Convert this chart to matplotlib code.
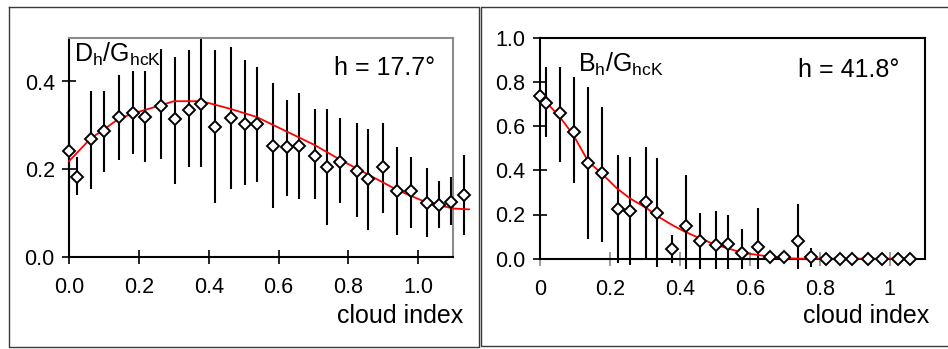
import numpy as np
import matplotlib.pyplot as plt
from matplotlib.lines import Line2D

plt.rcParams['font.family'] = ['Liberation Sans', 'DejaVu Sans']
plt.rcParams['mathtext.fontset'] = 'custom'
plt.rcParams['mathtext.rm'] = 'Liberation Sans'
plt.rcParams['mathtext.it'] = 'Liberation Sans:italic'

# left panel: D_h/G_hcK at h = 17.7 deg
d_x = [0.0, 0.023, 0.062, 0.099, 0.144, 0.184, 0.218, 0.264, 0.304, 0.343,
       0.379, 0.419, 0.463, 0.503, 0.537, 0.583, 0.623, 0.657, 0.703, 0.739,
       0.777, 0.823, 0.857, 0.898, 0.938, 0.978, 1.024, 1.058, 1.093, 1.132]
d_y = [0.241, 0.182, 0.268, 0.286, 0.319, 0.327, 0.318, 0.345, 0.314, 0.336,
       0.349, 0.295, 0.317, 0.303, 0.304, 0.253, 0.251, 0.253, 0.231, 0.205,
       0.217, 0.195, 0.177, 0.205, 0.149, 0.149, 0.122, 0.117, 0.126, 0.141]
d_lo = [0.148, 0.141, 0.154, 0.194, 0.221, 0.234, 0.217, 0.222, 0.167, 0.204,
        0.204, 0.122, 0.154, 0.163, 0.171, 0.112, 0.138, 0.131, 0.131, 0.072,
        0.122, 0.090, 0.062, 0.099, 0.049, 0.066, 0.044, 0.066, 0.072, 0.049]
d_hi = [0.338, 0.228, 0.379, 0.379, 0.414, 0.424, 0.424, 0.475, 0.455, 0.473,
        0.500, 0.473, 0.478, 0.450, 0.433, 0.397, 0.357, 0.374, 0.338, 0.338,
        0.316, 0.306, 0.292, 0.306, 0.251, 0.228, 0.202, 0.173, 0.183, 0.232]
d_fit_x = [0.0, 0.062, 0.099, 0.144, 0.2, 0.264, 0.3, 0.38, 0.46, 0.537,
           0.62, 0.703, 0.777, 0.86, 0.94, 1.02, 1.1, 1.145]
d_fit_y = [0.218, 0.270, 0.290, 0.316, 0.331, 0.346, 0.355, 0.355, 0.338, 0.319,
           0.287, 0.255, 0.221, 0.186, 0.152, 0.125, 0.110, 0.108]

# right panel: B_h/G_hcK at h = 41.8 deg
b_x = [0.0, 0.018, 0.058, 0.098, 0.138, 0.178, 0.224, 0.258, 0.304, 0.336,
       0.379, 0.418, 0.458, 0.504, 0.538, 0.578, 0.624, 0.658, 0.698, 0.738,
       0.774, 0.818, 0.858, 0.892, 0.938, 0.978, 1.024, 1.058]
b_y = [0.738, 0.703, 0.658, 0.575, 0.431, 0.386, 0.223, 0.216, 0.258, 0.208,
       0.042, 0.149, 0.080, 0.060, 0.068, 0.024, 0.051, 0.006, 0.006, 0.081,
       0.006, 0.0, 0.0, 0.0, 0.0, 0.0, 0.0, 0.0]
b_lo = [0.738, 0.552, 0.439, 0.341, 0.087, 0.077, -0.020, -0.030, 0.0, -0.036,
        -0.020, -0.048, -0.048, -0.048, -0.048, -0.048, -0.048, 0.006, 0.006, -0.048,
        -0.036, 0.0, 0.0, 0.0, 0.0, 0.0, 0.0, 0.0]
b_hi = [0.738, 0.869, 0.869, 0.824, 0.775, 0.688, 0.469, 0.462, 0.507, 0.454,
        0.107, 0.379, 0.208, 0.217, 0.200, 0.133, 0.228, 0.006, 0.006, 0.247,
        0.047, 0.0, 0.0, 0.0, 0.0, 0.0, 0.0, 0.0]
b_fit_x = [0.0, 0.018, 0.058, 0.096, 0.139, 0.177, 0.22, 0.258, 0.306, 0.339,
           0.379, 0.415, 0.458, 0.504, 0.538, 0.578, 0.624, 0.658, 0.698, 0.75, 1.06]
b_fit_y = [0.738, 0.71, 0.64, 0.56, 0.439, 0.386, 0.319, 0.273, 0.228, 0.19,
           0.152, 0.122, 0.092, 0.062, 0.047, 0.027, 0.017, 0.009, 0.002, 0.0, 0.0]

fig = plt.figure(figsize=(9.48, 3.49), dpi=100)
W, H = 948, 349

def px_axes(x0, x1, ytop, ybot):
    return fig.add_axes([x0 / W, 1 - ybot / H, (x1 - x0) / W, (ybot - ytop) / H])

ax1 = px_axes(69, 453.3, 37.7, 256.7)
ax2 = px_axes(539.7, 924.7, 37.7, 258.7)

def draw(ax, x, y, lo, hi, fx, fy):
    ax.vlines(x, lo, hi, color='black', lw=1.5, clip_on=False, zorder=2)
    ax.plot(fx, fy, color='red', lw=1.3, clip_on=False, zorder=3)
    ax.plot(x, y, 'D', ms=5.8, mfc='white', mec='black', mew=1.4,
            clip_on=False, zorder=4, linestyle='none')

draw(ax1, d_x, d_y, d_lo, d_hi, d_fit_x, d_fit_y)
draw(ax2, b_x, b_y, b_lo, b_hi, b_fit_x, b_fit_y)

ax1.set_xlim(0, 1.1)
ax1.set_ylim(0, 0.5)
ax1.set_xticks([0, 0.2, 0.4, 0.6, 0.8, 1.0])
ax1.set_xticklabels(['0.0', '0.2', '0.4', '0.6', '0.8', '1.0'])
ax1.set_yticks([0, 0.2, 0.4])
ax1.set_yticklabels(['0.0', '0.2', '0.4'])
for s in ['left', 'bottom']:
    ax1.spines[s].set_color('black')
    ax1.spines[s].set_linewidth(1.5)
for s in ['top', 'right']:
    ax1.spines[s].set_color('#8c8c8c')
    ax1.spines[s].set_linewidth(1.5)

ax2.set_xlim(0, 1.1)
ax2.set_ylim(0, 1.0)
ax2.set_xticks([0, 0.2, 0.4, 0.6, 0.8, 1.0])
ax2.set_xticklabels(['0', '0.2', '0.4', '0.6', '0.8', '1'])
ax2.set_yticks([0, 0.2, 0.4, 0.6, 0.8, 1.0])
ax2.set_yticklabels(['0.0', '0.2', '0.4', '0.6', '0.8', '1.0'])
for s in ax2.spines.values():
    s.set_color('black')
    s.set_linewidth(1.5)

for ax in (ax1, ax2):
    ax.set_facecolor('none')
    ax.tick_params(axis='both', direction='inout', length=9.5, width=1.2,
                   labelsize=15.5)
    ax.tick_params(axis='x', pad=10)
    ax.tick_params(axis='y', pad=5.5)
ax2.tick_params(axis='x', color='#8c8c8c')

lab = r'$\mathregular{D_h/G_{hcK}}$'
ax1.text(0.013, 0.889, lab, transform=ax1.transAxes, fontsize=18,
         ha='left', va='baseline')
ax1.text(0.952, 0.83, 'h = 17.7°', transform=ax1.transAxes, fontsize=18,
         ha='right', va='baseline')
ax2.text(0.0995, 0.846, r'$\mathregular{B_h/G_{hcK}}$', transform=ax2.transAxes,
         fontsize=18, ha='left', va='baseline')
ax2.text(0.933, 0.822, 'h = 41.8°', transform=ax2.transAxes, fontsize=18,
         ha='right', va='baseline')

fig.text(463 / W, 1 - 323 / H, 'cloud index', fontsize=18, ha='right', va='baseline')
fig.text(929 / W, 1 - 323 / H, 'cloud index', fontsize=18, ha='right', va='baseline')

# panel frames
def fline(xs, ys):
    fig.add_artist(Line2D([v / W for v in xs], [1 - v / H for v in ys],
                          color='#3a3a3a', lw=1.0))

fline([9, 479, 479, 9, 9], [7, 7, 346.5, 346.5, 7])
fline([948, 481, 481, 948], [7, 7, 345.5, 345.5])

fig.savefig('out.png', dpi=100)
